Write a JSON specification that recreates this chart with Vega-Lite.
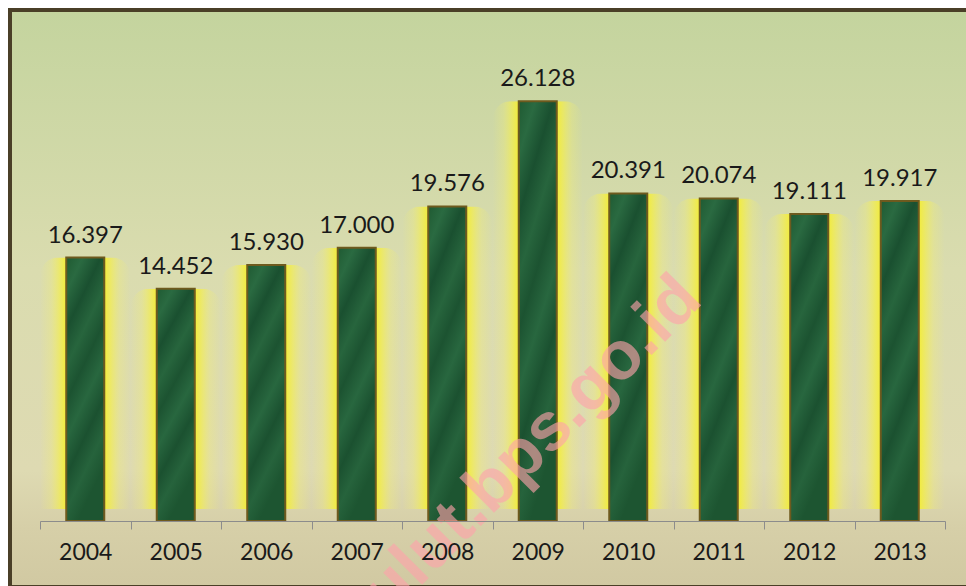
{
  "$schema": "https://vega.github.io/schema/vega-lite/v6.json",
  "width": 954,
  "height": 573,
  "autosize": "none",
  "padding": {"left": 12, "top": 12, "right": 0, "bottom": 1},
  "background": "#ffffff",
  "config": {
    "view": {"stroke": "#4a3f27", "strokeWidth": 8, "strokeDash": [954, 573, 1527]},
    "locale": {"number": {"decimal": ",", "thousands": ".", "grouping": [3], "currency": ["Rp", ""]}}
  },
  "data": {
    "values": [
      {"year": "2004", "value": 16397},
      {"year": "2005", "value": 14452},
      {"year": "2006", "value": 15930},
      {"year": "2007", "value": 17000},
      {"year": "2008", "value": 19576},
      {"year": "2009", "value": 26128},
      {"year": "2010", "value": 20391},
      {"year": "2011", "value": 20074},
      {"year": "2012", "value": 19111},
      {"year": "2013", "value": 19917}
    ]
  },
  "layer": [
    {
      "data": {"values": [{}]},
      "mark": {
        "type": "rect",
        "fill": {
          "gradient": "linear", "x1": 0, "y1": 0, "x2": 0, "y2": 1,
          "stops": [
            {"offset": 0, "color": "#c4d49e"},
            {"offset": 0.45, "color": "#dadcaf"},
            {"offset": 0.8, "color": "#dedab2"},
            {"offset": 0.9, "color": "#d6cfa8"},
            {"offset": 1, "color": "#d1c9a2"}
          ]
        }
      },
      "encoding": {}
    },
    {
      "mark": {
        "type": "bar",
        "width": 90,
        "yOffset": -12,
        "cornerRadiusTopLeft": 18,
        "cornerRadiusTopRight": 18,
        "fill": {
          "gradient": "linear", "x1": 0, "y1": 0, "x2": 1, "y2": 0,
          "stops": [
            {"offset": 0, "color": "rgba(242,238,110,0)"},
            {"offset": 0.12, "color": "rgba(242,238,110,0.3)"},
            {"offset": 0.22, "color": "rgba(242,237,80,0.75)"},
            {"offset": 0.285, "color": "#f2ec3c"},
            {"offset": 0.715, "color": "#f2ec3c"},
            {"offset": 0.78, "color": "rgba(242,237,80,0.75)"},
            {"offset": 0.88, "color": "rgba(242,238,110,0.3)"},
            {"offset": 1, "color": "rgba(242,238,110,0)"}
          ]
        }
      },
      "encoding": {
        "x": {
          "field": "year",
          "type": "nominal",
          "scale": {"range": [28, 933], "paddingInner": 0, "paddingOuter": 0},
          "axis": {
            "title": null,
            "orient": "bottom",
            "offset": -64,
            "zindex": 1,
            "labelAngle": 0,
            "domainColor": "#8c8c8c",
            "domainWidth": 1,
            "tickColor": "#8c8c8c",
            "tickSize": 8,
            "tickBand": "extent",
            "labelFont": "Lato",
            "labelFontSize": 23,
            "labelColor": "#1a1a1a",
            "labelPadding": 12
          }
        },
        "y": {
          "field": "value",
          "type": "quantitative",
          "scale": {"domain": [0, 30000], "range": [509, 27], "nice": false},
          "axis": null
        }
      }
    },
    {
      "mark": {
        "type": "bar",
        "width": 38,
        "stroke": "#6e5a1e",
        "strokeWidth": 2,
        "fill": {
          "gradient": "linear", "x1": 0, "y1": 0, "x2": 0.3, "y2": 1,
          "stops": [
            {"offset": 0, "color": "#1f5a32"},
            {"offset": 0.12, "color": "#2a6a41"},
            {"offset": 0.25, "color": "#1a5030"},
            {"offset": 0.38, "color": "#27653d"},
            {"offset": 0.5, "color": "#1c5331"},
            {"offset": 0.63, "color": "#28673f"},
            {"offset": 0.76, "color": "#1b5130"},
            {"offset": 0.88, "color": "#26633c"},
            {"offset": 1, "color": "#1d5531"}
          ]
        }
      },
      "encoding": {
        "x": {"field": "year", "type": "nominal"},
        "y": {"field": "value", "type": "quantitative"}
      }
    },
    {
      "mark": {
        "type": "text",
        "baseline": "alphabetic",
        "dy": -15,
        "font": "Lato",
        "fontSize": 24,
        "fill": "#1a1a1a"
      },
      "encoding": {
        "x": {"field": "year", "type": "nominal"},
        "y": {"field": "value", "type": "quantitative"},
        "text": {"field": "value", "type": "quantitative", "format": ",d"}
      }
    },
    {
      "data": {"values": [{"label": "sulut.bps.go.id"}]},
      "mark": {
        "type": "text",
        "angle": 315,
        "align": "center",
        "baseline": "middle",
        "dx": -26,
        "font": "Liberation Sans",
        "fontWeight": "bold",
        "fontSize": 68,
        "fill": "#ffa3ab",
        "opacity": 0.62
      },
      "encoding": {
        "x": {"datum": "2009", "type": "nominal"},
        "y": {"datum": 5000, "type": "quantitative"},
        "text": {"field": "label", "type": "nominal"}
      }
    }
  ]
}
